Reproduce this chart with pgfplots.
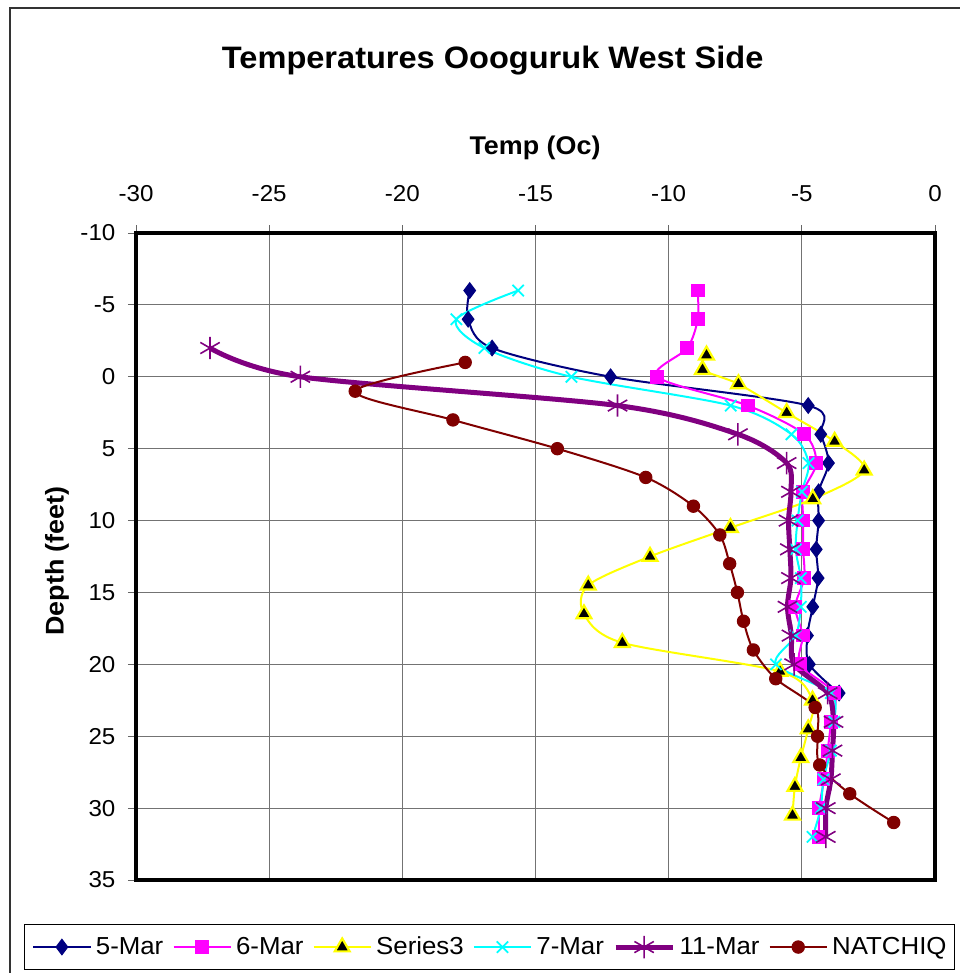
\documentclass[border=0pt]{standalone}
\usepackage{fontspec}
\setmainfont{Liberation Sans}[FakeStretch=1.05]
\usepackage{pgfplots}
\pgfplotsset{compat=1.18}

\definecolor{navyA}{RGB}{0,0,128}
\definecolor{magentaA}{RGB}{255,0,255}
\definecolor{yellowA}{RGB}{255,255,0}
\definecolor{cyanA}{RGB}{0,255,255}
\definecolor{purpleA}{RGB}{128,0,128}
\definecolor{darkredA}{RGB}{128,0,0}

\begin{document}
\begin{tikzpicture}
\useasboundingbox (0,0) rectangle (479.5pt,-486.5pt);
% chart area frame
\draw[line width=0.8pt, black!80] (5pt,-600pt) -- (5pt,-4pt) -- (600pt,-4pt);

\begin{axis}[
  at={(68pt,-116.5pt)}, anchor=north west,
  width=399.5pt, height=323.5pt, scale only axis,
  xmin=-30, xmax=0, ymin=-10, ymax=35, y dir=reverse,
  xtick={-30,-25,...,0}, ytick={-10,-5,...,35},
  xtick pos=right, xticklabel pos=right, ytick pos=left,
  tick align=outside, major tick length=4pt,
  tick style={black!60, line width=0.5pt},
  grid=major, grid style={black!55, line width=0.5pt},
  axis line style={line width=1.6pt},
  ticklabel style={font=\fontsize{11.5}{13}\selectfont, inner sep=0pt},
  xticklabel shift=11.6pt, yticklabel shift=6.1pt,
  /pgf/number format/assume math mode=true,
  legend columns=6,
  legend style={at={(0.4424,-0.1036)}, anchor=center, draw=black,
    line width=0.5pt, font=\fontsize{12.3}{14}\selectfont,
    inner xsep=4pt, inner ysep=4pt,
    /tikz/every odd column/.append style={column sep=2.25pt},
    /tikz/every even column/.append style={column sep=4.6pt},
    nodes={inner xsep=0pt, inner ysep=2pt}},
  legend image code/.code={\draw[mark repeat=2,mark phase=2,#1]
    plot coordinates {(0pt,0pt) (14.25pt,0pt) (28.5pt,0pt)};},
]

% 5-Mar
\addplot[color=navyA, line width=1pt, smooth, mark=diamond*, mark size=3.9pt,
  mark options={solid, line width=0.5pt}] coordinates {
  (-17.47,-6) (-17.53,-4) (-16.63,-2) (-12.18,0) (-4.76,2) (-4.29,4)
  (-4.00,6) (-4.37,8) (-4.37,10) (-4.46,12) (-4.39,14) (-4.59,16)
  (-4.79,18) (-4.72,20) (-3.60,22)
};
\addlegendentry{5-Mar}

% 6-Mar
\addplot[color=magentaA, line width=1pt, smooth, mark=square*, mark size=3.2pt,
  mark options={solid, line width=0.5pt}] coordinates {
  (-8.91,-6) (-8.91,-4) (-9.30,-2) (-10.43,0) (-7.03,2) (-4.91,4)
  (-4.46,6) (-4.95,8) (-4.95,10) (-4.95,12) (-4.91,14) (-5.25,16)
  (-4.97,18) (-5.07,20) (-3.78,22) (-3.90,24) (-4.03,26) (-4.16,28)
  (-4.35,30) (-4.35,32)
};
\addlegendentry{6-Mar}

% Series3
\addplot[color=yellowA, line width=1pt, smooth, mark=triangle*, mark size=4.3pt,
  mark options={solid, fill=black, draw=yellowA, line width=1.1pt}] coordinates {
  (-8.58,-1.5) (-8.73,-0.5) (-7.38,0.5) (-5.57,2.5) (-3.77,4.5) (-2.66,6.5)
  (-4.59,8.5) (-7.68,10.5) (-10.70,12.5) (-13.02,14.5) (-13.18,16.5)
  (-11.74,18.5) (-5.82,20.5) (-4.60,22.5) (-4.76,24.5) (-5.04,26.5)
  (-5.26,28.5) (-5.35,30.5)
};
\addlegendentry{Series3}

% 7-Mar
\addplot[color=cyanA, line width=1pt, smooth, mark=x, mark size=4pt,
  mark options={solid, line width=0.9pt}] coordinates {
  (-15.65,-6) (-17.97,-4) (-16.92,-2) (-13.65,0) (-7.67,2) (-5.39,4)
  (-4.75,6) (-5.00,8) (-5.16,10) (-5.23,12) (-5.04,14) (-5.04,16)
  (-5.23,18) (-5.97,20) (-3.91,22) (-3.78,24) (-3.91,26) (-4.19,28)
  (-4.29,30) (-4.60,32)
};
\addlegendentry{7-Mar}

% 11-Mar
\addplot[color=purpleA, line width=2.5pt, smooth, mark=asterisk, mark size=5.6pt,
  mark options={solid, line width=0.8pt}] coordinates {
  (-27.22,-2) (-23.83,0) (-11.92,2) (-7.40,4) (-5.57,6) (-5.41,8)
  (-5.50,10) (-5.45,12) (-5.41,14) (-5.54,16) (-5.39,18) (-5.29,20)
  (-4.03,22) (-3.81,24) (-3.85,26) (-3.91,28) (-4.10,30) (-4.10,32)
};
\addlegendentry{11-Mar}

% NATCHIQ
\addplot[color=darkredA, line width=1pt, smooth, mark=*, mark size=3.1pt,
  mark options={solid, line width=0.5pt}] coordinates {
  (-17.64,-1) (-21.77,1) (-18.10,3) (-14.18,5) (-10.86,7) (-9.07,9)
  (-8.08,11) (-7.71,13) (-7.42,15) (-7.19,17) (-6.82,19) (-5.98,21)
  (-4.50,23) (-4.41,25) (-4.33,27) (-3.20,29) (-1.55,31)
};
\addlegendentry{NATCHIQ}
\end{axis}

% titles
\node[anchor=base, font=\fontsize{15.5}{18}\selectfont\bfseries]
  at (246.35pt,-34.15pt) {Temperatures Oooguruk West Side};
\node[anchor=base, font=\fontsize{12.8}{15}\selectfont\bfseries]
  at (267.5pt,-77.5pt) {Temp (Oc)};
\node[rotate=90, anchor=center, font=\fontsize{12.8}{15}\selectfont\bfseries]
  at (28.5pt,-280.5pt) {Depth (feet)};
\end{tikzpicture}
\end{document}
